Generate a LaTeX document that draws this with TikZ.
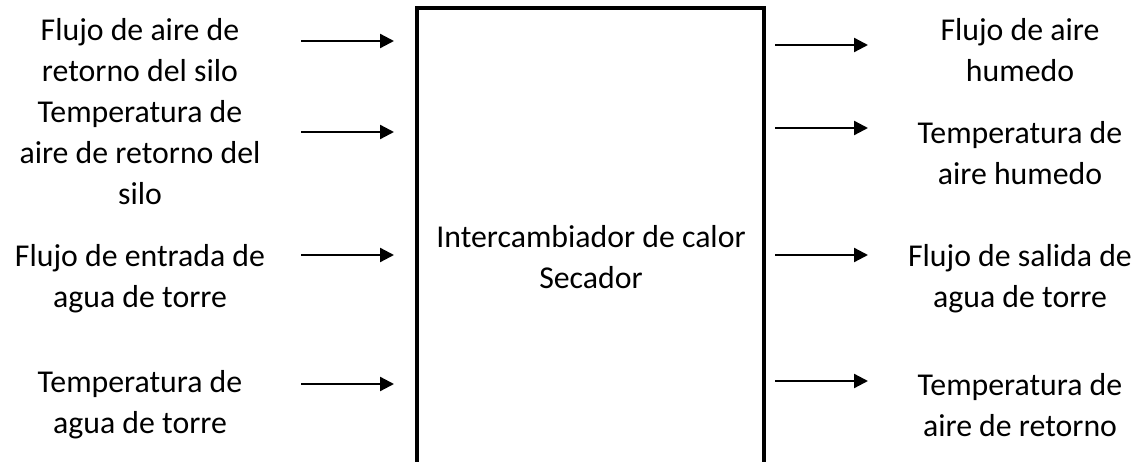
\documentclass[tikz,border=0pt]{standalone}
\usepackage{fontspec}
\setmainfont{Carlito}
\usetikzlibrary{arrows.meta}

\tikzset{
  flow/.style={line width=2.3pt, -{Triangle[length=14pt,width=14pt]}},
  label/.style={align=center, font=\fontsize{31.8}{41}\selectfont, inner sep=0pt},
}

\begin{document}
\begin{tikzpicture}[x=1pt, y=-1pt]

    % constants
    \def\xin{140}
    \def\xout{1020}

    \useasboundingbox (0,0) rectangle (1148,462);

    % exchanger block (open at the bottom)
    \draw[line width=3.2pt] (417,462) -- (417,8) -- (764,8) -- (764,462);
    \node[label] (block) at (591,257) {Intercambiador de calor\\Secador};

    % inputs
    \node[label] (in1) at (\xin,50) {Flujo de aire de\\retorno del silo};
    \node[label] (in2) at (\xin,153) {Temperatura de\\aire de retorno del\\silo};
    \node[label] (in3) at (\xin,279) {Flujo de entrada de\\agua de torre};
    \node[label] (in4) at (\xin,405) {Temperatura de\\agua de torre};

    % outputs
    \node[label] (out1) at (\xout,50) {Flujo de aire\\humedo};
    \node[label] (out2) at (\xout,153) {Temperatura de\\aire humedo};
    \node[label] (out3) at (\xout,279) {Flujo de salida de\\agua de torre};
    \node[label] (out4) at (\xout,405) {Temperatura de\\aire de retorno};

    % arrow ends
    \coordinate (a1) at (301,41);  \coordinate (b1) at (394,41);
    \coordinate (a2) at (301,132); \coordinate (b2) at (394,132);
    \coordinate (a3) at (301,255); \coordinate (b3) at (394,255);
    \coordinate (a4) at (301,384); \coordinate (b4) at (394,384);
    \coordinate (c1) at (775,45);  \coordinate (d1) at (868,45);
    \coordinate (c2) at (775,128); \coordinate (d2) at (868,128);
    \coordinate (c3) at (775,255); \coordinate (d3) at (868,255);
    \coordinate (c4) at (775,381); \coordinate (d4) at (868,381);

    % arrows
    \foreach \i in {1,...,4} {
      \draw[flow] (a\i) -- (b\i);
      \draw[flow] (c\i) -- (d\i);
    }

\end{tikzpicture}
\end{document}
